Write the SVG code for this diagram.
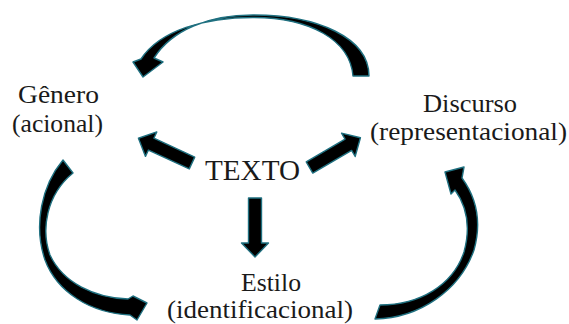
<svg xmlns="http://www.w3.org/2000/svg" width="569" height="324" viewBox="0 0 569 324">
<style>
.arr{fill:#000;stroke:#1f7080;stroke-width:1.4;stroke-linejoin:round}
.lbl{font-family:"Liberation Serif",serif;font-size:25px;fill:#1a1a1a}
.big{font-family:"Liberation Serif",serif;font-size:29px;fill:#1a1a1a}
</style>
<defs>
<path id="straight" d="M0,-6.5 L45,-6.5 L45,-13.5 L59,0 L45,13.5 L45,6.5 L0,6.5 Z"/>
</defs>
<rect width="569" height="324" fill="#fff"/>
<g id="connectors">
<path class="arr" d="M369,76 C369,38 318,15 253,15 C208,15 172,30 154,58 L163,62 L143,77 L133,62 L141,59 C160,30 205,17.5 253,17.5 C310,17.5 350,40 353,76 Z"/>
<path class="arr" d="M63,160 C42,185 33,225 45,260 C57,292 90,313 130,315 L137,320 L147,303 L133,296 L128,299 C95,298 63,283 50,255 C41,230 46,195 73,173 Z"/>
<path class="arr" d="M375,319 C420,318 460,290 474,250 C481,225 478,200 462,178 L464,167 L445,172 L451,194 L455,190 C468,208 470,230 464,252 C453,285 420,305 380,305 Z"/>
<use href="#straight" class="arr" transform="translate(192,163) rotate(204.8)"/>
<use href="#straight" class="arr" transform="translate(309.5,167.5) rotate(-30.3)"/>
<use href="#straight" class="arr" transform="translate(255,198) rotate(90)"/>
</g>
<g id="texto"><text class="big" x="205" y="180" textLength="95" lengthAdjust="spacingAndGlyphs">TEXTO</text></g>
<g id="genero">
<text class="lbl" x="18" y="103" textLength="81" lengthAdjust="spacingAndGlyphs">Gênero</text>
<text class="lbl" x="12" y="132" textLength="91" lengthAdjust="spacingAndGlyphs">(acional)</text>
</g>
<g id="discurso">
<text class="lbl" x="423" y="112" textLength="94" lengthAdjust="spacingAndGlyphs">Discurso</text>
<text class="lbl" x="370" y="140" textLength="197" lengthAdjust="spacingAndGlyphs">(representacional)</text>
</g>
<g id="estilo">
<text class="lbl" x="241" y="291" textLength="60" lengthAdjust="spacingAndGlyphs">Estilo</text>
<text class="lbl" x="167" y="318" textLength="186" lengthAdjust="spacingAndGlyphs">(identificacional)</text>
</g>
</svg>
